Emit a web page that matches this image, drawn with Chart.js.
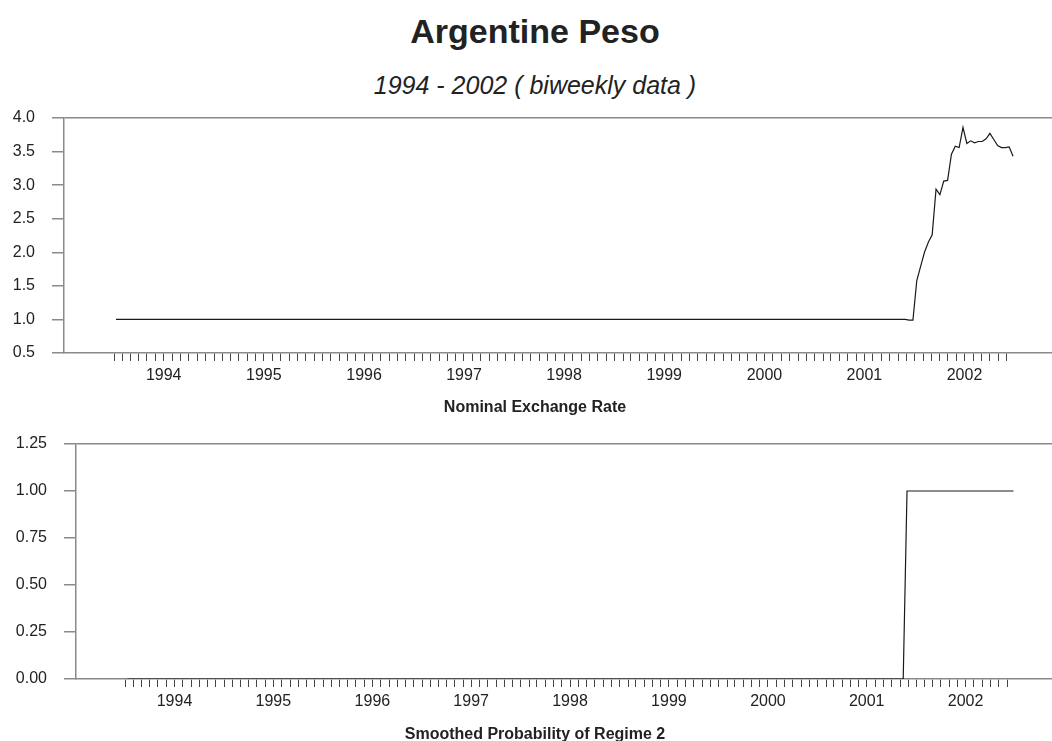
<!DOCTYPE html>
<html>
<head>
<meta charset="utf-8">
<title>Argentine Peso</title>
<script src="https://cdn.jsdelivr.net/npm/chart.js@4.4.1/dist/chart.umd.min.js"></script>
<style>
  html, body { margin: 0; padding: 0; background: #ffffff; }
  #page { position: relative; width: 1052px; height: 741px; overflow: hidden;
          font-family: "Liberation Sans", Arial, sans-serif; color: #222222; }
  .caption { position: absolute; left: 0; width: 1070px; text-align: center;
             line-height: 1; white-space: nowrap; }
  canvas { position: absolute; left: 0; }
</style>
</head>
<body>
<div id="page">
  <div class="caption" style="top:14px; font-size:34px; font-weight:bold;">Argentine Peso</div>
  <div class="caption" style="top:73px; font-size:25px; font-style:italic;">1994 - 2002 ( biweekly data )</div>
  <canvas id="rateChart" width="1052" height="400" style="top:0px"></canvas>
  <div class="caption" style="top:399px; font-size:16px; font-weight:bold;">Nominal Exchange Rate</div>
  <canvas id="regimeChart" width="1052" height="341" style="top:400px"></canvas>
  <div class="caption" style="top:726px; font-size:16px; font-weight:bold;">Smoothed Probability of Regime 2</div>
</div>
<script>
// Biweekly observations, 26 per year, January 1994 - December 2002
const firstYear = 1994;
const periodsPerYear = 26;
const yearLabels = ['1994', '1995', '1996', '1997', '1998', '1999', '2000', '2001', '2002'];

// Pesos per US dollar
const nominalRate = [
  /* 1994 */ 1,1,1,1,1,1,1,1,1,1,1,1,1,1,1,1,1,1,1,1,1,1,1,1,1,1,
  /* 1995 */ 1,1,1,1,1,1,1,1,1,1,1,1,1,1,1,1,1,1,1,1,1,1,1,1,1,1,
  /* 1996 */ 1,1,1,1,1,1,1,1,1,1,1,1,1,1,1,1,1,1,1,1,1,1,1,1,1,1,
  /* 1997 */ 1,1,1,1,1,1,1,1,1,1,1,1,1,1,1,1,1,1,1,1,1,1,1,1,1,1,
  /* 1998 */ 1,1,1,1,1,1,1,1,1,1,1,1,1,1,1,1,1,1,1,1,1,1,1,1,1,1,
  /* 1999 */ 1,1,1,1,1,1,1,1,1,1,1,1,1,1,1,1,1,1,1,1,1,1,1,1,1,1,
  /* 2000 */ 1,1,1,1,1,1,1,1,1,1,1,1,1,1,1,1,1,1,1,1,1,1,1,1,1,1,
  /* 2001 */ 1,1,1,1,1,1,1,1,1,1,1,1,1,1,1,1,1,1,1,1,1,1,1,1,0.99,0.99,
  /* 2002 */ 1.58,1.79,2.00,2.15,2.26,2.94,2.86,3.06,3.07,3.46,3.58,3.56,3.86,
             3.62,3.66,3.63,3.65,3.65,3.69,3.77,3.68,3.59,3.56,3.56,3.57,3.43
];

// Smoothed probability of the second (devaluation) regime
const regime2Prob = [
  /* 1994 */ 0,0,0,0,0,0,0,0,0,0,0,0,0,0,0,0,0,0,0,0,0,0,0,0,0,0,
  /* 1995 */ 0,0,0,0,0,0,0,0,0,0,0,0,0,0,0,0,0,0,0,0,0,0,0,0,0,0,
  /* 1996 */ 0,0,0,0,0,0,0,0,0,0,0,0,0,0,0,0,0,0,0,0,0,0,0,0,0,0,
  /* 1997 */ 0,0,0,0,0,0,0,0,0,0,0,0,0,0,0,0,0,0,0,0,0,0,0,0,0,0,
  /* 1998 */ 0,0,0,0,0,0,0,0,0,0,0,0,0,0,0,0,0,0,0,0,0,0,0,0,0,0,
  /* 1999 */ 0,0,0,0,0,0,0,0,0,0,0,0,0,0,0,0,0,0,0,0,0,0,0,0,0,0,
  /* 2000 */ 0,0,0,0,0,0,0,0,0,0,0,0,0,0,0,0,0,0,0,0,0,0,0,0,0,0,
  /* 2001 */ 0,0,0,0,0,0,0,0,0,0,0,0,0,0,0,0,0,0,0,0,0,0,0,1,1,1,
  /* 2002 */ 1,1,1,1,1,1,1,1,1,1,1,1,1,1,1,1,1,1,1,1,1,1,1,1,1,1
];

const FONT = '"Liberation Sans", Arial, sans-serif';
const FRAME = '#8a8a8a';
const INK = '#222222';
const X_MIN = 1993.5, X_MAX = 2003.37;

// Monthly tick marks; the year name sits on the July tick
const monthTicks = [];
yearLabels.forEach(label => {
  const y = Number(label);
  const yearStart = Date.UTC(y, 0, 1);
  const yearLen = Date.UTC(y + 1, 0, 1) - yearStart;
  for (let m = 0; m < 12; m++) {
    monthTicks.push({
      value: y + (Date.UTC(y, m, 1) - yearStart) / yearLen,
      label: m === 6 ? label : ''
    });
  }
});

function toPoints(values) {
  return values.map((v, i) => ({ x: firstYear + (i + 0.5) / periodsPerYear, y: v }));
}

function makePanel(id, values, yMin, yMax, yStep, decimals, axisWidth, padTop, padBottom) {
  return new Chart(document.getElementById(id), {
    type: 'line',
    data: {
      datasets: [{
        data: toPoints(values),
        borderColor: '#1a1a1a',
        borderWidth: 1.2,
        pointRadius: 0,
        tension: 0,
        fill: false
      }]
    },
    options: {
      responsive: false,
      animation: false,
      layout: { padding: { top: padTop, bottom: padBottom, left: 0, right: 0 } },
      plugins: { legend: { display: false }, tooltip: { enabled: false }, title: { display: false } },
      scales: {
        x: {
          type: 'linear',
          min: X_MIN,
          max: X_MAX,
          afterBuildTicks: scale => { scale.ticks = monthTicks.map(t => ({ value: t.value })); },
          afterFit: scale => { scale.height = 40; },
          ticks: {
            autoSkip: false, maxRotation: 0, minRotation: 0, padding: 5,
            color: INK, font: { family: FONT, size: 16 },
            callback: (v, idx) => monthTicks[idx] ? monthTicks[idx].label : ''
          },
          grid: { drawOnChartArea: false, drawTicks: true, tickLength: 8, tickColor: '#444444', tickWidth: 1 },
          border: { display: true, color: FRAME, width: 1.5 }
        },
        y: {
          type: 'linear',
          min: yMin,
          max: yMax,
          afterFit: scale => { scale.width = axisWidth; },
          ticks: {
            stepSize: yStep, padding: 17, color: INK, font: { family: FONT, size: 16 },
            callback: v => Number(v).toFixed(decimals)
          },
          grid: {
            color: ctx => (ctx.tick && Math.abs(ctx.tick.value - yMax) < 1e-9) ? FRAME : 'rgba(0,0,0,0)',
            lineWidth: 1.5,
            drawTicks: true, tickLength: 12, tickColor: FRAME, tickWidth: 1.5
          },
          border: { display: true, color: FRAME, width: 1.5 }
        }
      }
    }
  });
}

makePanel('rateChart', nominalRate, 0.5, 4.0, 0.5, 1, 64, 118, 7);
makePanel('regimeChart', regime2Prob, 0, 1.25, 0.25, 2, 76, 44, 22);
</script>
</body>
</html>
